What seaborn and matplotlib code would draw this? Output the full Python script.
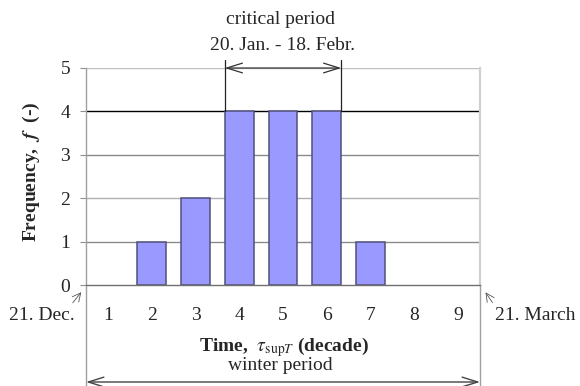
import matplotlib
matplotlib.use("Agg")
import matplotlib.pyplot as plt
import matplotlib.patches as mpatches
import seaborn as sns
import pandas as pd

decades = ["1", "2", "3", "4", "5", "6", "7", "8", "9"]
frequency = [0, 1, 2, 4, 4, 4, 1, 0, 0]
yticks = [0, 1, 2, 3, 4, 5]

sns.set_style("white")
plt.rcParams["font.family"] = ["Liberation Serif", "DejaVu Serif"]
plt.rcParams["mathtext.fontset"] = "stix"

FS = 14
W, H = 580, 386
fig = plt.figure(figsize=(W / 100, H / 100), dpi=100)
L, R, T, B = 86, 480, 68, 285
ax = fig.add_axes([L / W, 1 - B / H, (R - L) / W, (B - T) / H])

df = pd.DataFrame({"decade": decades, "f": frequency})
BW = 0.66
sns.barplot(data=df, x="decade", y="f", ax=ax, color="#9999ff", saturation=1,
            width=BW, edgecolor="#50507a", linewidth=1.1, zorder=3)
for p in ax.patches:
    if p.get_height() == 0:
        p.set_linewidth(0)

ax.set_xlim(-0.5, len(decades) - 0.5)
ax.set_ylim(0, 5)
ax.set_yticks(yticks)
grid_colors = {1: "#8a8a8a", 2: "#b0b0b0", 3: "#8a8a8a", 4: "#000000", 5: "#c0c0c0"}
for y in yticks[1:]:
    ax.axhline(y, color=grid_colors[y], lw=1.0, zorder=1)

ax.spines["top"].set_visible(False)
ax.spines["left"].set_color("#a0a0a0")
ax.spines["right"].set_color("#d0d0d0")
ax.spines["right"].set_linewidth(1.6)
ax.spines["left"].set_linewidth(1.0)
ax.spines["bottom"].set_color("#707070")
ax.spines["bottom"].set_linewidth(1.0)
ax.spines["bottom"].set_zorder(5)

ax.set_xticks(range(len(decades)))
ax.set_xticklabels(decades)
ax.set_xticks([i + 0.5 for i in range(len(decades) - 1)], minor=True)
ax.tick_params(axis="x", which="major", length=0, pad=16, labelsize=FS)
ax.tick_params(axis="x", which="minor", length=4.5, direction="out", color="#b0b0b0", width=1.0)
ax.tick_params(axis="y", length=4.5, direction="out", color="#909090", pad=7, labelsize=FS, left=True)
ax.set_xlabel("")
ax.set_ylabel("")

def fp(px, py):
    return (px / W, 1 - py / H)

fig.text(*fp(31, 172), r"Frequency,  $\mathbfit{f}$  (-)", rotation=90, ha="center", va="center",
         fontsize=FS, fontweight="bold")
fig.text(*fp(284, 347), r"Time,  $\tau_{\mathrm{sup}T}$ (decade)", ha="center", va="center",
         fontsize=FS, fontweight="bold")
fig.text(*fp(280, 366), "winter period", ha="center", va="center", fontsize=FS)
fig.text(*fp(280, 20), "critical period", ha="center", va="center", fontsize=FS)
fig.text(*fp(282, 45), "20. Jan. - 18. Febr.", ha="center", va="center", fontsize=FS)
fig.text(*fp(42, 315), "21. Dec.", ha="center", va="center", fontsize=FS)
fig.text(*fp(535, 315), "21. March", ha="center", va="center", fontsize=FS)

arrow_style = "<->,head_length=0.8,head_width=0.25"

# critical period bracket (bar edges)
x0 = 3 - BW / 2
x1 = 5 + BW / 2
ytop = (B - 60) / (B - T) * 5
for x in (x0, x1):
    ax.plot([x, x], [4, ytop], color="#222222", lw=0.9, clip_on=False, zorder=4)
ax.annotate("", xy=(x0, 5), xytext=(x1, 5), xycoords="data",
            arrowprops=dict(arrowstyle=arrow_style, color="#333333", lw=0.9,
                            shrinkA=0, shrinkB=0, mutation_scale=14), annotation_clip=False)

# winter period bracket
yb = -(390 - B) / (B - T) * 5
ya = -(382 - B) / (B - T) * 5
for x in (-0.5, len(decades) - 0.5):
    ax.plot([x, x], [0, yb], color="#a0a0a0", lw=1.0, clip_on=False)
ax.annotate("", xy=(-0.5, ya), xytext=(len(decades) - 0.5, ya), xycoords="data",
            arrowprops=dict(arrowstyle=arrow_style, color="#444444", lw=1.0,
                            shrinkA=0, shrinkB=0, mutation_scale=14), annotation_clip=False)

# small pointer arrows
fig.add_artist(mpatches.FancyArrowPatch(fp(71, 305), fp(83, 290), transform=fig.transFigure,
               arrowstyle="->,head_length=0.6,head_width=0.3", mutation_scale=10, lw=0.6, color="#555555"))
fig.add_artist(mpatches.FancyArrowPatch(fp(494, 305), fp(484, 290), transform=fig.transFigure,
               arrowstyle="->,head_length=0.6,head_width=0.3", mutation_scale=10, lw=0.6, color="#555555"))

fig.savefig("out.png", dpi=100)
